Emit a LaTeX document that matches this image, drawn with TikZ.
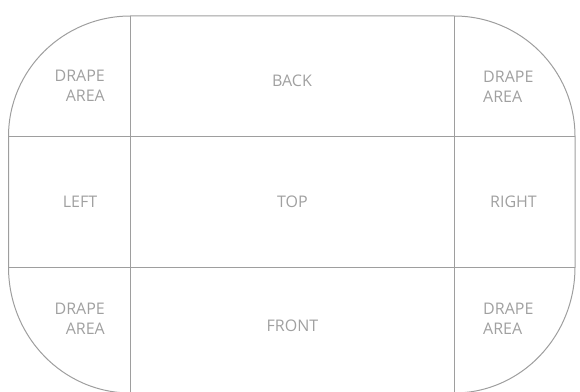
\documentclass[tikz,border=0pt]{standalone}
\usepackage{fontspec}
\setmainfont{Open Sans}
\usepackage{tikz}
\definecolor{edgegray}{RGB}{158,158,158}
\definecolor{labelgray}{RGB}{160,160,160}

\begin{document}
\begin{tikzpicture}[x=1pt,y=1pt,every node/.style={text=labelgray,inner sep=0pt,font=\fontsize{16}{20.5}\selectfont}]
\useasboundingbox (0,0) rectangle (580,391);
\clip (0,0) rectangle (580,391);
\draw[edgegray,line width=1pt] (8.5,124) -- (8.5,254.5)
  arc[start angle=180,end angle=90,x radius=122,y radius=120.5] -- (454,375)
  arc[start angle=90,end angle=0,x radius=121,y radius=120.5] -- (575,124)
  arc[start angle=0,end angle=-90,x radius=121,y radius=126] -- (130.5,-2)
  arc[start angle=270,end angle=180,x radius=122,y radius=126] -- cycle;
\draw[edgegray,line width=1pt] (130.5,375) -- (130.5,-2); \draw[edgegray,line width=1pt] (454,375) -- (454,-2);
\draw[edgegray,line width=1pt] (8.5,254.5) -- (575,254.5); \draw[edgegray,line width=1pt] (8.5,124) -- (575,124);
\node (back) at (292,310) {BACK};
\node (top) at (292.5,189.5) {TOP};
\node (front) at (292.5,65) {FRONT};
\node (left) at (80,189.5) {LEFT};
\node (right) at (513.5,189.5) {RIGHT};
\node[anchor=east,align=right] (dtl) at (105,305) {DRAPE\\AREA};
\node[anchor=west,align=left] (dtr) at (483,304) {DRAPE\\AREA};
\node[anchor=east,align=right] (dbl) at (105,72) {DRAPE\\AREA};
\node[anchor=west,align=left] (dbr) at (483,72) {DRAPE\\AREA};
\end{tikzpicture}
\end{document}
